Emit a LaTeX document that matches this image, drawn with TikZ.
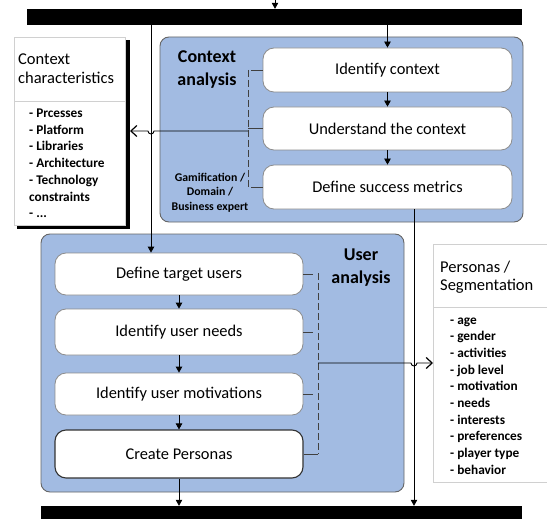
\documentclass[tikz,border=0pt]{standalone}
\usepackage{fontspec}
\setmainfont{Carlito}
\usetikzlibrary{arrows.meta}
\definecolor{cblue}{HTML}{A2BBE2}
\definecolor{cborder}{HTML}{666666}
\definecolor{bborder}{HTML}{8C8C8C}
\definecolor{lborder}{HTML}{D0D0D0}
\begin{document}
\begin{tikzpicture}[x=1pt,y=-1pt,
  container/.style={draw=cborder, fill=cblue, rounded corners=9pt, line width=0.9pt, inner sep=0pt},
  stepbox/.style={draw=bborder, fill=white, rounded corners=11pt, line width=0.8pt, inner sep=0pt,
     minimum width=249pt, font=\fontsize{16.4}{19}\selectfont},
  bar/.style={fill=black, inner sep=0pt},
  flow/.style={line width=0.8pt, -{Triangle[length=6pt,width=6.5pt]}},
  feed/.style={line width=0.9pt, -{Straight Barb[length=6pt,width=11pt,line width=1.2pt]}},
  dashline/.style={draw=black!75, line width=1pt, dash pattern=on 7pt off 3pt},
  tick/.style={draw=black!75, line width=0.9pt},
  infobox/.style={draw=lborder, fill=white, line width=0.8pt, inner sep=0pt},
  listitem/.style={anchor=base west, inner sep=0pt, font=\fontsize{13.3}{16}\selectfont\bfseries},
  title/.style={anchor=base west, inner sep=0pt, font=\fontsize{16.5}{19}\selectfont},
  boldlabel/.style={inner sep=0pt, align=center, font=\fontsize{18}{23}\selectfont\bfseries},
]
\useasboundingbox (0,0) rectangle (547,519);

% bars
\node[bar, minimum width=495pt, minimum height=16pt] (topbar) at (274.5,17) {};
\node[bar, minimum width=481pt, minimum height=16pt] (botbar) at (281.5,514) {};
\coordinate (topin) at (275,0);

% context analysis
\node[container, minimum width=363pt, minimum height=185pt] (ctx) at (341.5,129.5) {};
\node[stepbox, minimum height=44pt] (ic) at (387.5,70) {Identify context};
\node[stepbox, minimum height=43pt] (uc) at (387.5,128.5) {Understand the context};
\node[stepbox, minimum height=44pt] (dm) at (387.5,187) {Define success metrics};
\node[boldlabel, anchor=base] (ctxlbl) at (207,86) {Context\\analysis};
\node[inner sep=0pt, align=center, font=\fontsize{11.8}{14.5}\selectfont\bfseries, anchor=base] (gam) at (210,210)
  {Gamification /\\Domain /\\Business expert};

% user analysis
\node[container, minimum width=363pt, minimum height=258pt] (usr) at (222.5,363) {};
\node[stepbox, minimum width=248pt, minimum height=42pt] (dt) at (179,274) {Define target users};
\node[stepbox, minimum width=248pt, minimum height=46pt] (un) at (179,332) {Identify user needs};
\node[stepbox, minimum width=248pt, minimum height=42pt] (um) at (179,394) {Identify user motivations};
\node[stepbox, minimum width=248pt, minimum height=48pt, draw=black!80, line width=1.1pt] (cp) at (179,454) {Create Personas};
\node[boldlabel, anchor=base] (usrlbl) at (361,283) {User\\analysis};

% context characteristics box
\fill[black] (17,40) rectangle (130,229);
\node[infobox, minimum width=111pt, minimum height=188pt] (cc) at (69.5,131) {};
\draw[lborder, line width=0.8pt] (14,101) -- (125,101);
\node[title] (cct1) at (18,65) {Context};
\node[title] (cct2) at (18,84) {characteristics};
\node[listitem] (cc1) at (29,117.5) {- Prcesses};
\node[listitem] (cc2) at (29,134.2) {- Platform};
\node[listitem] (cc3) at (29,150.9) {- Libraries};
\node[listitem] (cc4) at (29,167.6) {- Architecture};
\node[listitem] (cc5) at (29,184.3) {- Technology};
\node[listitem] (cc6) at (29,201) {constraints};
\node[listitem] (cc7) at (29,217.7) {- ...};

% personas box
\node[infobox, minimum width=120pt, minimum height=238pt] (pb) at (493,363) {};
\draw[lborder, line width=0.8pt] (433,307) -- (553,307);
\node[title] (pbt1) at (440,272) {Personas /};
\node[title] (pbt2) at (440,290.5) {Segmentation};
\foreach \t [count=\i] in {age,gender,activities,job level,motivation,needs,interests,preferences,player type,behavior}
  \node[listitem] (p\i) at (450,{324+16.7*(\i-1)}) {- \t};

% flow arrows
\draw[flow] (topin) -- (topbar.north -| topin);
\draw[flow] (topbar.south -| ic.north) -- (ic.north);
\draw[flow] (ic) -- (uc);
\draw[flow] (uc) -- (dm);
\coordinate (lx) at (151,0);
\draw[flow] (topbar.south -| lx) -- (dt.north -| lx);
\draw[flow] (dt) -- (un);
\draw[flow] (un) -- (um);
\draw[flow] (um) -- (cp);
\draw[flow] (cp) -- (botbar.north -| cp);
\coordinate (rx) at (414,0);
\draw[flow] (dm.south -| rx) -- (botbar.north -| rx);

% context dashed group
\coordinate (cdt) at (248,70);
\coordinate (cdb) at (248,187);
\draw[dashline] (cdt) -- (cdb);
\draw[tick] (251,70) -- (ic.west);
\draw[tick] (248,128.5) -- (uc.west);
\draw[tick] (251,187) -- (dm.west);
\draw[feed] (248,131) -- (154,131) arc[start angle=0, end angle=-180, radius=3pt] -- (130,131);

% user dashed group
\coordinate (udt) at (318,273);
\coordinate (udb) at (318,454);
\draw[dashline] (udt) -- (udb);
\draw[tick] (dt.east) -- (313,274);
\draw[tick] (un.east) -- (313,332);
\draw[tick] (um.east) -- (313,394);
\draw[tick] (cp.east) -- (318,454);
\draw[feed] (318,363) -- (411,363) arc[start angle=180, end angle=360, radius=3pt] -- (433,363);
\end{tikzpicture}
\end{document}
